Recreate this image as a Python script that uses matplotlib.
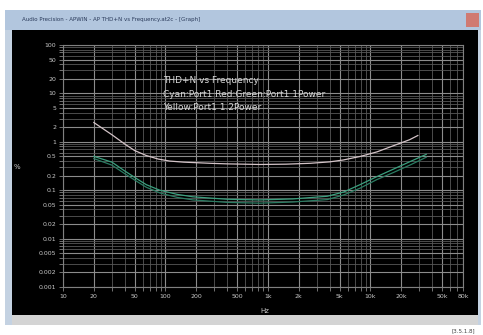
import numpy as np
import matplotlib.pyplot as plt
from matplotlib.patches import Rectangle

# x axis (Hz) and y axis (%) tick labels
x_ticks = [10, 20, 50, 100, 200, 500, 1000, 2000, 5000, 10000, 20000, 50000, 80000]
x_labels = ["10", "20", "50", "100", "200", "500", "1k", "2k", "5k", "10k", "20k", "50k", "80k"]
y_ticks = [100, 50, 20, 10, 5, 2, 1, 0.5, 0.2, 0.1, 0.05, 0.02, 0.01, 0.005, 0.002, 0.001]
y_labels = ["100", "50", "20", "10", "5", "2", "1", "0.5", "0.2", "0.1",
            "0.05", "0.02", "0.01", "0.005", "0.002", "0.001"]

# upper trace (light)
f_upper = [20, 30, 40, 50, 65, 85, 110, 150, 270, 400, 830, 1500, 2600, 4000, 5400,
           8000, 11600, 16000, 24000, 29000]
thd_upper = [2.5, 1.4, 0.9, 0.66, 0.52, 0.44, 0.40, 0.38, 0.36, 0.35, 0.34, 0.345, 0.36,
             0.385, 0.42, 0.5, 0.62, 0.8, 1.1, 1.35]

# lower traces (green)
f_green = [20, 30, 40, 53, 65, 88, 130, 185, 400, 830, 1750, 3800, 5500, 7900, 11500,
           16600, 25000, 35000]
thd_green1 = [0.5, 0.38, 0.25, 0.17, 0.13, 0.10, 0.082, 0.073, 0.065, 0.063, 0.066, 0.075,
              0.092, 0.13, 0.19, 0.27, 0.4, 0.55]
thd_green2 = [0.45, 0.33, 0.22, 0.15, 0.115, 0.088, 0.071, 0.063, 0.056, 0.054, 0.057, 0.064,
              0.08, 0.11, 0.165, 0.23, 0.34, 0.48]

W, H = 483, 335
fig = plt.figure(figsize=(W / 100, H / 100), dpi=100)
fig.patch.set_facecolor("white")


def box(x0, y0, x1, y1, color):
    # rectangle given in pixel coords from the top-left corner
    fig.patches.append(Rectangle((x0 / W, 1 - y1 / H), (x1 - x0) / W, (y1 - y0) / H,
                                 transform=fig.transFigure, facecolor=color,
                                 edgecolor="none", zorder=-5))


# window frame
box(5, 10, 481, 325, "#c4d2e2")
box(5, 10, 481, 30, "#b2c6de")
box(12, 30, 478, 315, "black")
box(12, 315, 478, 325, "#d4d4d4")
box(466, 13, 479, 27, "#d07a72")
fig.text(22 / W, 1 - 20 / H, "Audio Precision - APWIN - AP THD+N vs Frequency.at2c - [Graph]",
         fontsize=4, color="#2a3a5a", va="center")
fig.text(475 / W, 1 - 331 / H, "[3.5.1.8]", fontsize=4, color="#404040", ha="right", va="center")

ax = fig.add_axes([63 / W, 1 - 287 / H, 400 / W, 242 / H])
ax.set_zorder(5)
ax.set_facecolor("black")
ax.set_xscale("log")
ax.set_yscale("log")
ax.set_xlim(10, 80000)
ax.set_ylim(0.001, 100)

ax.set_xticks(x_ticks)
ax.set_xticklabels(x_labels)
ax.set_yticks(y_ticks)
ax.set_yticklabels(y_labels)
ax.xaxis.set_minor_locator(plt.LogLocator(base=10, subs=np.arange(2, 10)))
ax.yaxis.set_minor_locator(plt.LogLocator(base=10, subs=np.arange(2, 10)))
ax.xaxis.set_minor_formatter(plt.NullFormatter())
ax.yaxis.set_minor_formatter(plt.NullFormatter())

ax.grid(True, which="major", color="#8c8c8c", lw=0.8)
ax.grid(True, which="minor", color="#585858", lw=0.6)
ax.tick_params(which="both", colors="#a0a0a0", labelcolor="#c8c8c8", labelsize=4.5,
               length=3, width=0.5, pad=2)
for s in ax.spines.values():
    s.set_color("#808080")

ax.plot(f_upper, thd_upper, color="#d4c4c8", lw=0.9)
ax.plot(f_green, thd_green1, color="#3aa07e", lw=0.9)
ax.plot(f_green, thd_green2, color="#2a7c62", lw=0.9)

ax.text(0.25, 0.87, "THD+N vs Frequency\nCyan:Port1 Red:Green:Port1 1Power\nYellow:Port1 1.2Power",
        transform=ax.transAxes, fontsize=6.5, color="#d8d8d8", va="top", linespacing=1.6)

fig.text(17 / W, 1 - 167 / H, "%", fontsize=5, color="#c8c8c8", ha="center", va="center")
fig.text(265 / W, 1 - 311 / H, "Hz", fontsize=5, color="#c8c8c8", ha="center", va="center")

fig.savefig("out.png", dpi=100, facecolor="white")
